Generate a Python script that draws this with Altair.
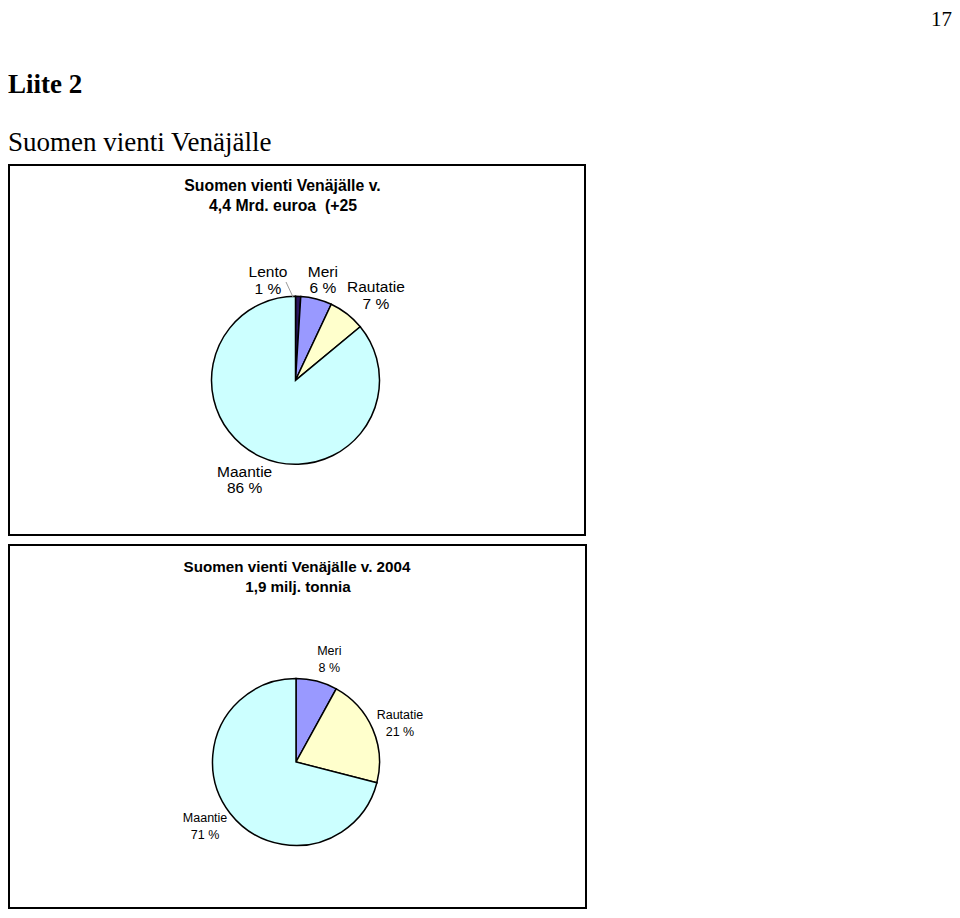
import math
import altair as alt
import pandas as pd

# ---- data ----
page_number = "17"
appendix = "Liite 2"
heading = "Suomen vienti Venäjälle"

title1 = ["Suomen vienti Venäjälle v.", "4,4 Mrd. euroa\u00a0 (+25"]
cats1 = ["Lento", "Meri", "Rautatie", "Maantie"]
vals1 = [1, 6, 7, 86]

title2 = ["Suomen vienti Venäjälle v. 2004", "1,9 milj. tonnia"]
cats2 = ["Meri", "Rautatie", "Maantie"]
vals2 = [8, 21, 71]

color_domain = ["Lento", "Meri", "Rautatie", "Maantie"]
color_range = ["#2b1660", "#9999ff", "#ffffcc", "#ccffff"]

SANS = "Liberation Sans"
SERIF = "Liberation Serif"
one = pd.DataFrame({"k": [0]})


def text_layer(txt, x, y, size, font, bold=False, align="center"):
    return alt.Chart(pd.DataFrame({"t": [txt]})).mark_text(
        font=font, fontSize=size, fontWeight="bold" if bold else "normal",
        align=align, baseline="alphabetic", color="black"
    ).encode(text="t:N", x=alt.value(x), y=alt.value(y))


def box_layer(x0, x1, y0, y1):
    return alt.Chart(one).mark_rect(
        fillOpacity=0, stroke="black", strokeWidth=2
    ).encode(x=alt.value(x0), x2=alt.value(x1), y=alt.value(y0), y2=alt.value(y1))


def pie_layers(cats, vals, cx, cy, r, lab_r, offsets, size, lh):
    df = pd.DataFrame({"cat": cats, "val": vals, "ord": list(range(len(cats)))})
    base = alt.Chart(df)
    out = [base.mark_arc(outerRadius=r, stroke="black", strokeWidth=1.5).encode(
        theta=alt.Theta("val:Q", stack=True),
        color=alt.Color("cat:N", scale=alt.Scale(domain=color_domain, range=color_range), legend=None),
        order=alt.Order("ord:Q"),
        x=alt.value(cx), y=alt.value(cy),
    )]
    for cat, (dx, dy) in offsets.items():
        out.append(
            base.transform_window(
                cum="sum(val)", sort=[alt.SortField("ord", order="ascending")], frame=[None, 0]
            ).transform_calculate(
                mid="datum.cum - datum.val / 2",
                label="datum.cat + '\\n' + datum.val + ' %'",
            ).transform_filter(
                alt.datum.cat == cat
            ).mark_text(
                radius=lab_r, dx=dx, dy=dy, lineBreak="\n", lineHeight=lh,
                font=SANS, fontSize=size, color="black", align="center", baseline="middle",
            ).encode(
                theta=alt.Theta("mid:Q", stack=None,
                                scale=alt.Scale(domain=[0, 100], range=[0, 2 * math.pi])),
                text="label:N",
                x=alt.value(cx), y=alt.value(cy),
            )
        )
    return out


layers = []
# page texts
layers.append(text_layer(page_number, 944, 18, 21, SERIF, align="right"))
layers.append(text_layer(appendix, 0, 85, 27, SERIF, bold=True, align="left"))
layers.append(text_layer(heading, 0, 143, 27, SERIF, align="left"))

# frames
layers.append(box_layer(1, 577, 157, 527))
layers.append(box_layer(1, 578, 537, 900))

# chart 1
layers.append(text_layer(title1[0], 274.5, 183, 15.8, SANS, bold=True))
layers.append(text_layer(title1[1], 275, 202.5, 15.8, SANS, bold=True))
layers += pie_layers(cats1, vals1, 287.5, 372.3, 84, 110,
                     {"Lento": (-31, 2), "Meri": (0, -2), "Rautatie": (13, -6), "Maantie": (-4, -8)},
                     15.5, 16.5)
layers.append(alt.Chart(one).mark_rule(color="#9a9a9a", strokeWidth=1).encode(
    x=alt.value(278), x2=alt.value(285), y=alt.value(274), y2=alt.value(289)))

# chart 2
layers.append(text_layer(title2[0], 289, 564, 15.2, SANS, bold=True))
layers.append(text_layer(title2[1], 290, 584, 15.2, SANS, bold=True))
layers += pie_layers(cats2, vals2, 288, 754, 83.5, 110,
                     {"Meri": (6, -4), "Rautatie": (3, -3), "Maantie": (-4, -11)},
                     12.5, 16.5)

chart = alt.layer(*layers).resolve_scale(theta="independent").properties(
    width=944, height=902, autosize="none", padding=0
).configure_view(stroke=None)

chart.save("out.html", embed_options={"renderer": "svg", "actions": False})
